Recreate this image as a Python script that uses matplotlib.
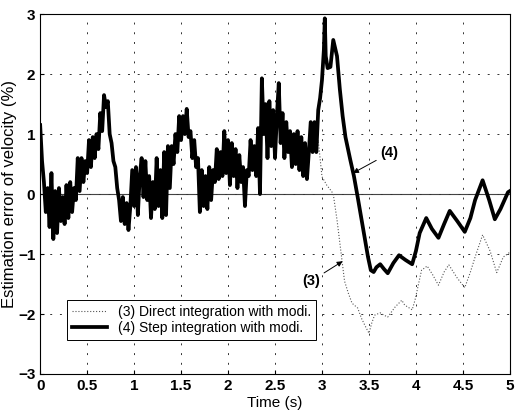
import numpy as np
import matplotlib
matplotlib.use("Agg")
import matplotlib.pyplot as plt

plt.rcParams['font.family'] = ['Liberation Sans', 'DejaVu Sans']

# noisy part shared by both curves, sampled every 0.02 s from 0 to 2.94 s
noisy_vals = [1.15, 0.55, 0.2, -0.3, 0.1, -0.55, 0.35, -0.75, 0.05, -0.65,
              0.1, -0.45, -0.05, -0.5, 0.15, -0.4, 0.2, -0.3, 0.1, -0.1,
              0.6, 0.05, 0.6, 0.2, 0.55, 0.35, 0.9, 0.45, 0.95, 0.6,
              1.0, 0.75, 1.35, 1.05, 1.65, 1.45, 1.55, 1.0, 0.85, 0.55,
              0.45, 0.1, -0.1, -0.45, -0.05, -0.5, -0.15, -0.6, -0.2, 0.4,
              -0.2, 0.45, -0.35, 0.3, 0.6, -0.05, 0.55, -0.1, 0.3, -0.4,
              0.2, -0.25, 0.6, -0.2, 0.4, -0.4, 0.7, -0.35, 0.8, 0.1,
              0.8, 0.5, 1.0, 0.7, 1.3, 0.9, 1.3, 1.0, 1.42, 0.95,
              1.05, 0.6, 0.9, 0.45, 0.6, -0.3, 0.4, -0.2, 0.3, -0.25,
              0.45, -0.1, 0.4, 0.2, 0.75, 0.25, 0.7, 0.3, 1.05, 0.35,
              0.9, 0.15, 0.85, 0.3, 0.75, 0.1, 0.65, 0.2, 0.45, -0.2,
              0.4, 0.3, 0.9, 0.4, 0.8, 0.3, 1.1, 0.0, 1.93, 1.0,
              1.5, 0.6, 1.55, 0.8, 1.4, 0.6, 1.3, 1.85, 0.85, 1.35,
              0.6, 1.2, 0.7, 1.05, 0.45, 1.0, 0.5, 1.05, 0.4, 0.95,
              0.3, 0.85, 0.25, 0.7, 1.2, 0.7, 1.2, 0.7]
noisy_t = np.linspace(0, 2.94, len(noisy_vals))

# (3) direct integration after 2.94 s
direct_t = [2.96, 2.98, 3.0, 3.05, 3.1, 3.12, 3.16, 3.21, 3.24, 3.28, 3.32, 3.38,
            3.42, 3.46, 3.5, 3.53, 3.56, 3.62, 3.66, 3.7, 3.78, 3.85, 3.88, 3.96,
            3.99, 4.06, 4.12, 4.18, 4.24, 4.3, 4.35, 4.44, 4.52, 4.58, 4.63, 4.71,
            4.79, 4.86, 4.93, 5.0]
direct_v = [0.9, 0.6, 0.29, 0.15, 0.05, 0.0, -0.43, -1.07, -1.45, -1.65, -1.82, -1.9,
            -2.07, -2.2, -2.32, -2.15, -2.02, -1.98, -2.02, -2.05, -1.88, -1.77, -1.85, -1.93,
            -1.77, -1.27, -1.2, -1.35, -1.52, -1.3, -1.18, -1.4, -1.56, -1.3, -1.05, -0.68,
            -0.95, -1.31, -1.05, -0.97]

# (4) step integration after 2.94 s
step_t = [2.96, 2.98, 3.0, 3.02, 3.03, 3.04, 3.06, 3.09, 3.12, 3.16, 3.19, 3.22,
          3.25, 3.3, 3.34, 3.38, 3.44, 3.49, 3.52, 3.55, 3.58, 3.62, 3.66, 3.7, 3.76,
          3.82, 3.89, 3.96, 4.0, 4.04, 4.11, 4.17, 4.24, 4.3, 4.36, 4.44, 4.52,
          4.58, 4.63, 4.71, 4.78, 4.84, 4.9, 4.98, 5.0]
step_v = [1.4, 1.6, 1.9, 2.4, 2.93, 2.3, 2.1, 2.12, 2.57, 2.3, 1.75, 1.3,
          0.95, 0.58, 0.3, -0.05, -0.6, -1.05, -1.27, -1.3, -1.22, -1.17, -1.25, -1.32, -1.15,
          -1.02, -1.1, -1.17, -0.95, -0.65, -0.4, -0.58, -0.73, -0.5, -0.28, -0.45, -0.63,
          -0.4, -0.1, 0.23, -0.1, -0.42, -0.25, 0.03, 0.05]

t3 = np.concatenate([noisy_t, direct_t])
v3 = np.concatenate([noisy_vals, direct_v])
t4 = np.concatenate([noisy_t, step_t])
v4 = np.concatenate([noisy_vals, step_v])

fig = plt.figure(figsize=(5.15, 4.16), dpi=100)
ax = fig.add_axes([0.078, 0.101, 0.912, 0.865])

ax.axhline(0, color='#444444', lw=0.8, zorder=1)
ax.plot(t3, v3, color='#555555', lw=0.8, ls=':', label='(3) Direct integration with modi.', zorder=2)
ax.plot(t4, v4, color='black', lw=2.7, label='(4) Step integration with modi.', zorder=3)

ax.set_xlim(0, 5)
ax.set_ylim(-3, 3)
ax.set_xticks(np.arange(0, 5.01, 0.5))
ax.set_xticklabels(['0', '0.5', '1', '1.5', '2', '2.5', '3', '3.5', '4', '4.5', '5'])
ax.set_yticks(range(-3, 4))
ax.grid(True, color='#333333', ls=(0, (2, 8)), lw=0.7)
ax.tick_params(direction='in', labelsize=11, length=3)
for lab in ax.get_xticklabels() + ax.get_yticklabels():
    lab.set_fontweight('bold')
for s in ax.spines.values():
    s.set_linewidth(0.8)

ax.set_xlabel('Time (s)', fontsize=11, labelpad=2)
ax.set_ylabel('Estimation error of velocity (%)', fontsize=12, labelpad=1)

ax.annotate('(4)', xy=(3.33, 0.35), xytext=(3.62, 0.68), fontsize=10.5, fontweight='bold',
            ha='left', va='center',
            arrowprops=dict(arrowstyle='-|>', color='black', lw=0.7, mutation_scale=8,
                            shrinkA=1, shrinkB=0))
ax.annotate('(3)', xy=(3.22, -1.12), xytext=(2.98, -1.45), fontsize=10.5, fontweight='bold',
            ha='right', va='center',
            arrowprops=dict(arrowstyle='-|>', color='black', lw=0.7, mutation_scale=8,
                            shrinkA=1, shrinkB=0))

leg = ax.legend(loc='lower left', bbox_to_anchor=(0.057, 0.094), borderaxespad=0,
                fancybox=False, edgecolor='black', framealpha=1, fontsize=10,
                handlelength=2.5, borderpad=0.35, labelspacing=0.2)
leg.get_frame().set_linewidth(0.7)

fig.savefig('out.png', dpi=100)
